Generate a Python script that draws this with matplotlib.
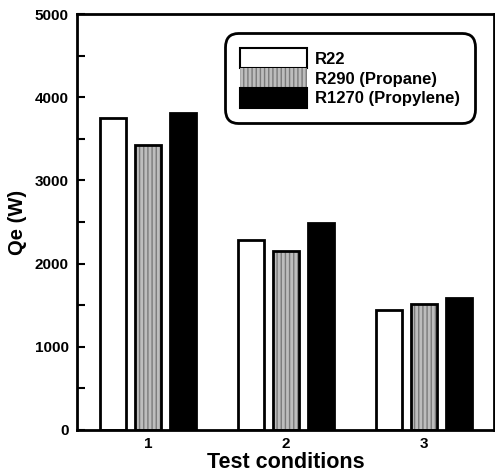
import numpy as np
import matplotlib
matplotlib.use("Agg")
import matplotlib.pyplot as plt
from matplotlib.patches import Patch
from matplotlib.ticker import MultipleLocator

plt.rcParams['font.family'] = ['Liberation Sans', 'DejaVu Sans']
plt.rcParams['font.weight'] = 'bold'

# data
conditions = ['1', '2', '3']
r22 = [3750, 2290, 1440]
r290 = [3430, 2150, 1510]
r1270 = [3810, 2490, 1590]
labels = ['R22', 'R290 (Propane)', 'R1270 (Propylene)']

x = np.arange(1, len(conditions) + 1)
w = 0.19
off = 0.255

fig = plt.figure(figsize=(4.95, 4.74), dpi=100)
ax = fig.add_axes([0.156, 0.093, 0.842, 0.877])

ax.bar(x - off, r22, w, color='white', edgecolor='black', linewidth=2)
# gray stippled bars: hatch layer then black outline
ax.bar(x, r290, w, color='#bdbdbd', edgecolor='#7a7a7a', hatch='||||', linewidth=0)
ax.bar(x, r290, w, fill=False, edgecolor='black', linewidth=2)
ax.bar(x + off, r1270, w, color='black', edgecolor='black', linewidth=2)

ax.set_xlim(0.484, 3.51)
ax.set_ylim(0, 5000)
ax.set_xticks(x)
ax.set_xticklabels(conditions)
ax.yaxis.set_major_locator(MultipleLocator(1000))
ax.yaxis.set_minor_locator(MultipleLocator(500))
ax.tick_params(axis='y', which='both', direction='in', length=6, width=1.5,
               labelsize=11, pad=6)
ax.tick_params(axis='x', length=0, labelsize=11, pad=5)
for s in ax.spines.values():
    s.set_linewidth(2)

ax.set_ylabel('Qe (W)', fontsize=14.5, fontweight='bold', labelpad=6)
ax.set_xlabel('Test conditions', fontsize=15.5, fontweight='bold', labelpad=1)

handles = [
    Patch(facecolor='white', edgecolor='black', linewidth=1.5),
    Patch(facecolor='#bdbdbd', edgecolor='#7a7a7a', hatch='||||', linewidth=0),
    Patch(facecolor='black', edgecolor='black', linewidth=1.5),
]
leg = ax.legend(handles, labels, loc='upper right', bbox_to_anchor=(0.95, 0.95),
                fontsize=12, handlelength=4.0, handleheight=1.45,
                labelspacing=0.0, handletextpad=0.5, borderpad=0.6,
                borderaxespad=0.2,
                fancybox=True, framealpha=1, edgecolor='black')
leg.get_frame().set_linewidth(2)
leg.get_frame().set_boxstyle('round', pad=0.3, rounding_size=0.8)

fig.savefig('out.png', dpi=100)
